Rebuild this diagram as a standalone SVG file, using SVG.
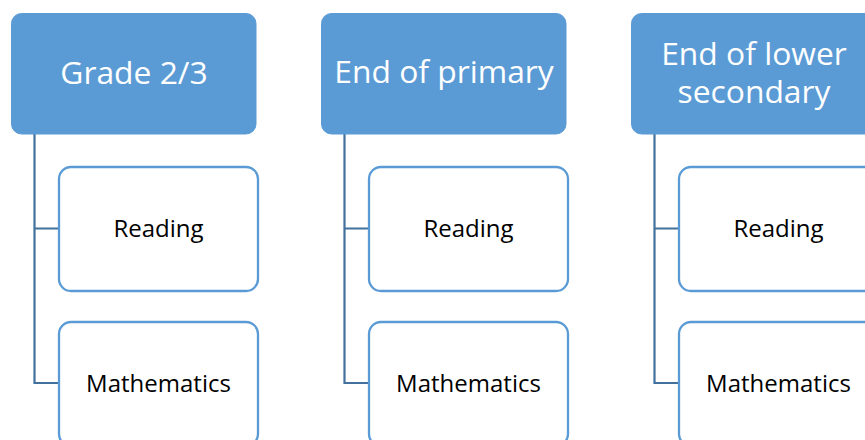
<svg xmlns="http://www.w3.org/2000/svg" width="865" height="440" viewBox="0 0 865 440">
<style>
.hdr{fill:#5b9bd5;stroke:#5b9bd5;stroke-width:1}
.child{fill:#ffffff;stroke:#5b9bd5;stroke-width:2.3}
.ht{font-family:"Open Sans","Noto Sans",sans-serif;font-size:31.8px;fill:#ffffff;text-anchor:middle}
.ct{font-family:"Open Sans","Noto Sans",sans-serif;font-size:24px;fill:#000000;text-anchor:middle}
.conn{fill:none;stroke:#41719c;stroke-width:2.2}
</style>
<rect width="865" height="440" fill="#ffffff"/>
<g id="connectors">
<path class="conn" d="M34.5,134 V383 H59 M34.5,228.5 H59"/>
<path class="conn" d="M344.5,134 V383 H369 M344.5,228.5 H369"/>
<path class="conn" d="M654.5,134 V383 H679 M654.5,228.5 H679"/>
</g>
<g id="h1"><rect class="hdr" x="11.5" y="13.5" width="244.5" height="120.5" rx="10"/><text class="ht" x="134" y="83.5">Grade 2/3</text></g>
<g id="h2"><rect class="hdr" x="321.5" y="13.5" width="244.5" height="120.5" rx="10"/><text class="ht" x="444" y="83">End of primary</text></g>
<g id="h3"><rect class="hdr" x="631.5" y="13.5" width="244.5" height="120.5" rx="10"/><text class="ht" x="754" y="64.5">End of lower</text><text class="ht" x="754" y="102.5">secondary</text></g>
<g id="c1r"><rect class="child" x="59" y="167" width="199" height="124" rx="12"/><text class="ct" x="158.5" y="237">Reading</text></g>
<g id="c1m"><rect class="child" x="59" y="322" width="199" height="124" rx="12"/><text class="ct" x="158.5" y="392">Mathematics</text></g>
<g id="c2r"><rect class="child" x="369" y="167" width="199" height="124" rx="12"/><text class="ct" x="468.5" y="237">Reading</text></g>
<g id="c2m"><rect class="child" x="369" y="322" width="199" height="124" rx="12"/><text class="ct" x="468.5" y="392">Mathematics</text></g>
<g id="c3r"><rect class="child" x="679" y="167" width="199" height="124" rx="12"/><text class="ct" x="778.5" y="237">Reading</text></g>
<g id="c3m"><rect class="child" x="679" y="322" width="199" height="124" rx="12"/><text class="ct" x="778.5" y="392">Mathematics</text></g>
</svg>
